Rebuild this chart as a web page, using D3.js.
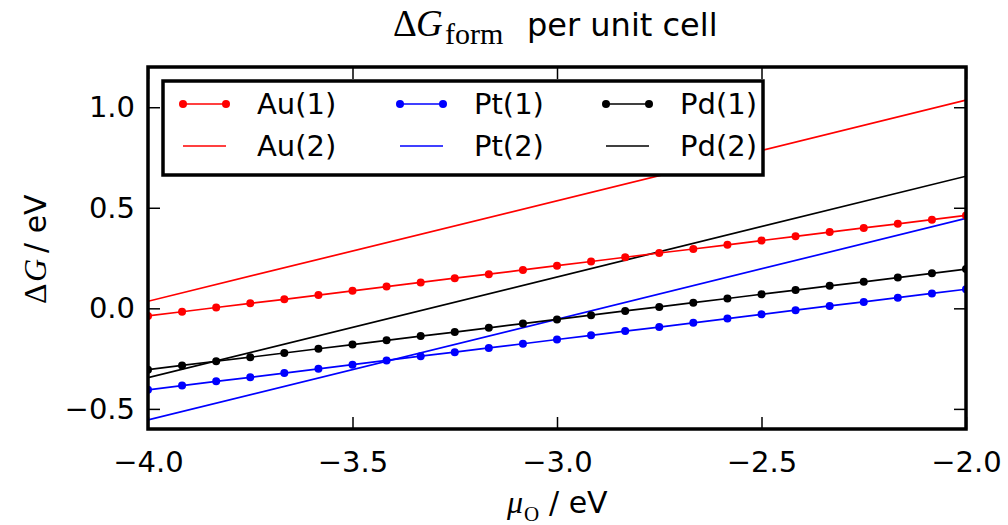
<!DOCTYPE html>
<html><head><meta charset="utf-8">
<script src="https://d3js.org/d3.v7.min.js"></script>
<style>body{margin:0;background:#fff}svg{display:block}</style>
</head><body><svg id="c" width="1008" height="525"></svg>
<script>
const xPts = [-4.0,-3.9167,-3.8333,-3.75,-3.6667,-3.5833,-3.5,-3.4167,-3.3333,-3.25,-3.1667,-3.0833,-3.0,-2.9167,-2.8333,-2.75,-2.6667,-2.5833,-2.5,-2.4167,-2.3333,-2.25,-2.1667,-2.0833,-2.0];
const au1 = [-0.038,-0.017,0.004,0.025,0.045,0.066,0.087,0.108,0.129,0.150,0.170,0.191,0.212,0.233,0.254,0.275,0.295,0.316,0.337,0.358,0.379,0.400,0.420,0.441,0.462];
const pt1 = [-0.405,-0.384,-0.363,-0.343,-0.322,-0.301,-0.280,-0.259,-0.238,-0.218,-0.197,-0.176,-0.155,-0.134,-0.113,-0.093,-0.072,-0.051,-0.030,-0.009,0.012,0.032,0.053,0.074,0.095];
const pd1 = [-0.305,-0.284,-0.263,-0.243,-0.222,-0.201,-0.180,-0.159,-0.138,-0.118,-0.097,-0.076,-0.055,-0.034,-0.013,0.007,0.028,0.049,0.070,0.091,0.112,0.132,0.153,0.174,0.195];
const xLine = [-4.0, -2.0];
const au2 = [0.035, 1.035];
const pt2 = [-0.555, 0.447];
const pd2 = [-0.345, 0.657];
const xTicks = [-4.0,-3.5,-3.0,-2.5,-2.0];
const yTicks = [-0.5,0.0,0.5,1.0];
const legendLabels = ["Au(1)","Au(2)","Pt(1)","Pt(2)","Pd(1)","Pd(2)"];
const colors = {Au:"#ff0000", Pt:"#0000ff", Pd:"#000000"};

const svg = d3.select("#c");
const L=148, R=966, T=67, B=429;
const x = d3.scaleLinear().domain([-4,-2]).range([L,R]);
const y = d3.scaleLinear().domain([-0.6,1.2]).range([B,T]);
const fmt = d3.format(".1f");
const sans = "DejaVu Sans, sans-serif";
const serif = "Liberation Serif, serif";
const FS = 29;

svg.append("defs").append("clipPath").attr("id","clip")
  .append("rect").attr("x",L).attr("y",T).attr("width",R-L).attr("height",B-T);

function styleAxis(g){ g.select(".domain").remove(); g.selectAll(".tick line").attr("stroke","#000").attr("stroke-width",1.5);
  g.selectAll("text").attr("font-family",sans).attr("font-size",FS).attr("fill","#000"); }
svg.append("g").attr("transform",`translate(0,${B})`)
  .call(d3.axisBottom(x).tickValues(xTicks).tickFormat(fmt).tickSizeInner(-12).tickSizeOuter(0).tickPadding(22)).call(styleAxis);
svg.append("g").attr("transform",`translate(0,${T})`)
  .call(d3.axisTop(x).tickValues(xTicks).tickFormat("").tickSizeInner(-12).tickSizeOuter(0)).call(styleAxis);
svg.append("g").attr("transform",`translate(${L},0)`)
  .call(d3.axisLeft(y).tickValues(yTicks).tickFormat(fmt).tickSizeInner(-12).tickSizeOuter(0).tickPadding(13)).call(styleAxis);
svg.append("g").attr("transform",`translate(${R},0)`)
  .call(d3.axisRight(y).tickValues(yTicks).tickFormat("").tickSizeInner(-12).tickSizeOuter(0)).call(styleAxis);

const plot = svg.append("g").attr("clip-path","url(#clip)");
const line = d3.line().x(d=>x(d[0])).y(d=>y(d[1]));
function drawSeries(xs, ys, color, markers){
  const pts = xs.map((v,i)=>[v, ys[i]]);
  plot.append("path").attr("d", line(pts)).attr("fill","none").attr("stroke",color).attr("stroke-width",1.7);
  if(markers){
    plot.selectAll(null).data(pts).enter().append("circle")
      .attr("cx",d=>x(d[0])).attr("cy",d=>y(d[1])).attr("r",4).attr("fill",color);
  }
}
drawSeries(xLine, au2, colors.Au, false);
drawSeries(xLine, pt2, colors.Pt, false);
drawSeries(xLine, pd2, colors.Pd, false);
drawSeries(xPts, au1, colors.Au, true);
drawSeries(xPts, pt1, colors.Pt, true);
drawSeries(xPts, pd1, colors.Pd, true);

svg.append("rect").attr("x",L).attr("y",T).attr("width",R-L).attr("height",B-T)
  .attr("fill","none").attr("stroke","#000").attr("stroke-width",3.5);

// legend
const lg = svg.append("g");
lg.append("rect").attr("x",163).attr("y",81).attr("width",600).attr("height",94)
  .attr("fill","#fff").attr("stroke","#000").attr("stroke-width",3.5);
const colX = [183, 400, 606];
const rowY = [104, 146];
legendLabels.forEach((lab,i)=>{
  const c = Math.floor(i/2), r = i%2;
  const col = colors[lab.slice(0,2)];
  const x0 = colX[c], x1 = colX[c]+43, yy = rowY[r];
  lg.append("line").attr("x1",x0).attr("x2",x1).attr("y1",yy).attr("y2",yy).attr("stroke",col).attr("stroke-width",1.7);
  if(r===0){ [x0,x1].forEach(cx=>lg.append("circle").attr("cx",cx).attr("cy",yy).attr("r",4).attr("fill",col)); }
  lg.append("text").attr("x",x1+31).attr("y",yy+10).attr("font-family",sans).attr("font-size",FS).text(lab);
});

// title
const tg = svg.append("g");
tg.append("text").attr("x",393).attr("y",36).attr("font-family",serif).attr("font-size",37).text("Δ");
tg.append("text").attr("x",416).attr("y",36).attr("font-family",serif).attr("font-style","italic").attr("font-size",37).text("G");
tg.append("text").attr("x",445).attr("y",44).attr("font-family",serif).attr("font-size",30).text("form");
tg.append("text").attr("x",527).attr("y",36).attr("font-family",sans).attr("font-size",32).text("per unit cell");

// x label
const xg = svg.append("g");
xg.append("text").attr("x",507).attr("y",513).attr("font-family",serif).attr("font-style","italic").attr("font-size",32).text("μ");
xg.append("text").attr("x",524).attr("y",521).attr("font-family",serif).attr("font-size",21).text("O");
xg.append("text").attr("x",549).attr("y",513).attr("font-family",sans).attr("font-size",30).text("/ eV");

// y label
const yg = svg.append("g").attr("transform","translate(46,0) rotate(-90)");
yg.append("text").attr("x",-304).attr("y",0).attr("font-family",serif).attr("font-size",32).text("Δ");
yg.append("text").attr("x",-282).attr("y",0).attr("font-family",serif).attr("font-style","italic").attr("font-size",32).text("G");
yg.append("text").attr("x",-253).attr("y",0).attr("font-family",sans).attr("font-size",30).text("/ eV");
</script></body></html>
